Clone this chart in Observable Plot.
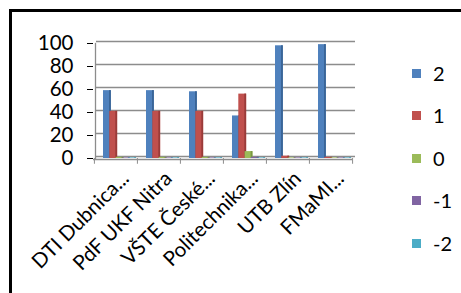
<!DOCTYPE html>
<html><head><meta charset="utf-8">
<script src="https://cdn.jsdelivr.net/npm/d3@7"></script>
<script src="https://cdn.jsdelivr.net/npm/@observablehq/plot@0.6"></script>
<style>
body{margin:0;background:#fff;width:461px;height:293px;overflow:hidden;position:relative;font-family:Lato,sans-serif}
#frame{position:absolute;left:9px;top:9px;width:600px;height:400px;border-left:3px solid #000;border-top:3px solid #000}
#chart{position:absolute;left:0;top:0}
#legend{position:absolute;left:412px;top:0;width:49px;height:293px}
.item{position:absolute;left:0;display:flex;align-items:center;white-space:nowrap;font-size:20px;line-height:20px;color:#000}
.sw{width:9px;height:9px;margin-right:12px}
</style></head><body>
<div id="frame"></div><div id="chart"></div><div id="legend"></div>
<script>
const categories = ["DTI Dubnica...", "PdF UKF Nitra", "VŠTE České...", "Politechnika...", "UTB Zlín", "FMaMI..."];
const seriesNames = ["2", "1", "0", "-1", "-2"];
const s2 = [59, 59, 58, 37, 98, 99];
const s1 = [41, 41, 41, 56, 2, 1];
const s0 = [1, 1, 1, 6, 0.5, 0.5];
const sm1 = [0.5, 0.5, 0.5, 1, 0.5, 0.5];
const sm2 = [0.5, 0.5, 0.5, 0.5, 0.5, 0.5];
const yTicks = [0, 20, 40, 60, 80, 100];
const colors = ["#4F81BD", "#C0504D", "#9BBB59", "#8064A2", "#4BACC6"];
const shades = ["#3A6597", "#9A3B39", "#7A9841", "#624B80", "#3589A0"];

const seriesValues = [s2, s1, s0, sm1, sm2];
const W = 400, H = 293, ML = 93, MR = 48, MT = 43, MB = 135;
const step = (W - ML - MR) / categories.length;
const groupStart = 9, barStep = 6.3, barW = 8, sideW = 2;
const gridColor = "#8c8c8c";

const barMarks = seriesValues.flatMap((vals, i) => {
  const rows = categories.map((c, j) => ({cat: c, v: vals[j], s: seriesNames[i]}));
  const left = groupStart + barStep * i;
  return [
    Plot.barY(rows, {x: "cat", y: "v", fill: colors[i], insetLeft: left, insetRight: step - left - barW}),
    Plot.barY(rows, {x: "cat", y: "v", fill: shades[i], insetLeft: left + barW - sideW, insetRight: step - left - barW})
  ];
});

const chart = Plot.plot({
  width: W, height: H,
  marginLeft: ML, marginRight: MR, marginTop: MT, marginBottom: MB,
  style: {fontFamily: "Lato, sans-serif", fontSize: "20.5px", color: "#000", background: "transparent"},
  x: {type: "band", domain: categories, padding: 0, axis: null},
  y: {domain: [0, 100], ticks: yTicks, tickSize: 6, tickPadding: 14, label: null, tickFormat: d => String(d)},
  marks: [
    Plot.ruleY(yTicks, {stroke: gridColor, strokeWidth: 1.3, dx: 3, dy: -2}),
    Plot.frame({anchor: "left", stroke: gridColor, strokeWidth: 1.3, dx: 2}),
    Plot.ruleY([0], {stroke: gridColor, strokeWidth: 1.3, dy: 1}),
    Plot.ruleX(categories, {x: d => d, y1: 0, y2: -5, stroke: gridColor, dx: -step / 2}),
    Plot.ruleX(categories.slice(-1), {x: d => d, y1: 0, y2: -5, stroke: gridColor, dx: step / 2}),
    ...barMarks,
    Plot.text(categories, {x: d => d, y: 0, text: d => d, rotate: -45, textAnchor: "end", lineAnchor: "top", fontSize: 20.5, fill: "#000", dx: 4, dy: 11})
  ]
});
document.getElementById("chart").appendChild(chart);

const legend = document.getElementById("legend");
const legendY = [73, 115, 158, 200, 243];
seriesNames.forEach((n, i) => {
  const item = document.createElement("div");
  item.className = "item";
  item.style.top = (legendY[i] - 10) + "px";
  const sw = document.createElement("span");
  sw.className = "sw";
  sw.style.background = colors[i];
  const t = document.createElement("span");
  t.textContent = n;
  item.appendChild(sw); item.appendChild(t);
  legend.appendChild(item);
});
</script>
</body></html>
